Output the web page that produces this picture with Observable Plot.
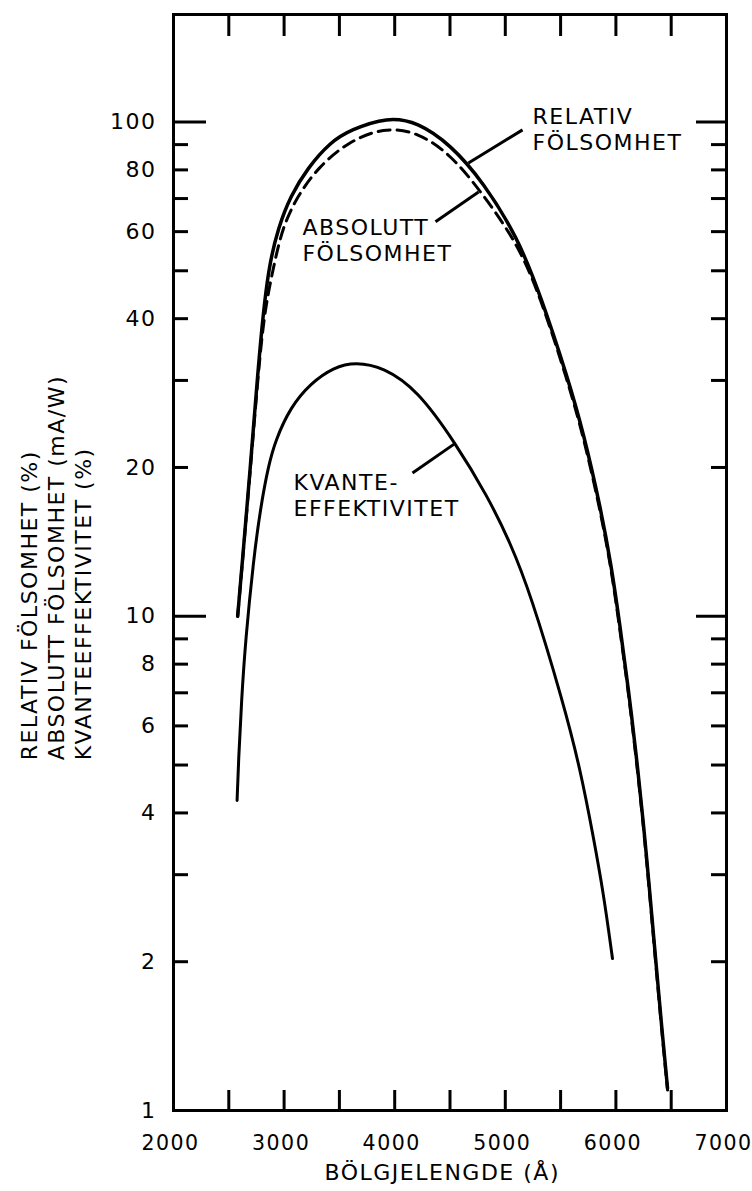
<!DOCTYPE html>
<html>
<head>
<meta charset="utf-8">
<script src="https://cdn.jsdelivr.net/npm/d3@7"></script>
<script src="https://cdn.jsdelivr.net/npm/@observablehq/plot@0.6"></script>
<style>
  html, body { margin: 0; padding: 0; background: #fff; }
</style>
</head>
<body>
<div id="chart"></div>
<script>
// Spectral response of the photocathode, wavelength in ångström
const relWave  = [2580, 2624, 2696, 2750, 2796, 2859, 2949, 3058, 3212, 3420, 3600, 3935, 4206, 4505, 4803, 5110, 5318, 5562, 5707, 5861, 5960, 6033, 6114, 6186, 6250, 6304, 6358, 6412, 6467];
const relValue = [10.0, 13.0, 20.2, 28.7, 38.0, 50.9, 61.3, 70.8, 80.7, 91.1, 96.4, 102.4, 100.0, 90.0, 75.5, 58.5, 44.6, 30.5, 23.5, 16.6, 12.6, 9.7, 7.1, 5.2, 3.8, 2.8, 2.04, 1.49, 1.11];

const absWave  = [2580, 2624, 2696, 2752, 2814, 2904, 2986, 3121, 3302, 3573, 3899, 4206, 4505, 4776, 5110, 5318, 5562, 5707, 5861, 5960, 6033, 6114, 6186, 6250, 6304, 6358, 6412, 6467];
const absValue = [10.0, 12.9, 20.0, 28.3, 40.5, 50.9, 61.3, 70.8, 80.7, 91.1, 97.5, 95.5, 86.0, 72.5, 56.9, 44.2, 30.0, 23.1, 16.3, 12.4, 9.5, 7.0, 5.1, 3.75, 2.76, 2.01, 1.47, 1.1];

const qeWave  = [2575, 2588, 2615, 2651, 2723, 2787, 2859, 2922, 3058, 3239, 3447, 3646, 3899, 4206, 4550, 4839, 5047, 5228, 5526, 5680, 5797, 5888, 5969];
const qeValue = [4.24, 5.11, 6.76, 8.94, 13.0, 16.6, 20.2, 22.7, 26.5, 29.6, 31.9, 32.7, 31.9, 28.7, 22.4, 17.5, 14.06, 11.1, 6.67, 4.88, 3.57, 2.75, 2.03];

// Axis ticks
const xTickLabels = [2000, 3000, 4000, 5000, 6000, 7000];
const xTickMarks  = [2500, 3000, 3500, 4000, 4500, 5000, 5500, 6000, 6500];
const yTickLabels = [1, 2, 4, 6, 8, 10, 20, 40, 60, 80, 100];
const yMinorTicks = [2, 3, 4, 5, 6, 7, 8, 9, 20, 30, 40, 50, 60, 70, 80, 90];
const yMajorTicks = [10, 100];

// Curve names with their leader lines
const labelText  = ["RELATIV\nFÖLSOMHET", "ABSOLUTT\nFÖLSOMHET", "KVANTE-\nEFFEKTIVITET"];
const labelWave  = [5246, 3166, 3085];
const labelValue = [108, 64.5, 19.6];
const leaderWave1  = [4667, 4369, 4161];
const leaderValue1 = [82.6, 62.8, 19.5];
const leaderWave2  = [5156, 4758, 4550];
const leaderValue2 = [96.4, 72.2, 22.4];

const xTitle = "BÖLGJELENGDE (Å)";
const yTitle = "RELATIV FÖLSOMHET (%)\nABSOLUTT FÖLSOMHET (mA/W)\nKVANTEEFFEKTIVITET (%)";

const toRows = (xs, ys) => xs.map((x, i) => ({x, y: ys[i]}));
const rel = toRows(relWave, relValue);
const abs = toRows(absWave, absValue);
const qe = toRows(qeWave, qeValue);
const labels = labelText.map((t, i) => ({t, x: labelWave[i], y: labelValue[i]}));
const leaders = leaderWave1.map((x1, i) => ({x1, y1: leaderValue1[i], x2: leaderWave2[i], y2: leaderValue2[i]}));

const W = 752, H = 1191, ML = 173, MR = 26, MT = 14, MB = 81;
const plotW = W - ML - MR, plotH = H - MT - MB;
const FONT = "'DejaVu Sans', Verdana, sans-serif";
const FS = 22;
const SW = 3;

const chart = Plot.plot({
  width: W,
  height: H,
  marginLeft: ML,
  marginRight: MR,
  marginTop: MT,
  marginBottom: MB,
  style: {fontFamily: FONT, fontSize: FS + "px", letterSpacing: "1.5px", background: "#fff", color: "#000"},
  x: {domain: [2000, 7000], axis: null},
  y: {type: "log", domain: [1, 165], axis: null},
  marks: [
    // inward ticks on all four sides
    Plot.tickY(yMinorTicks, {y: d => d, insetRight: plotW - 15, strokeWidth: SW}),
    Plot.tickY(yMajorTicks, {y: d => d, insetRight: plotW - 33, strokeWidth: SW}),
    Plot.tickY(yMinorTicks, {y: d => d, insetLeft: plotW - 15, strokeWidth: SW}),
    Plot.tickY(yMajorTicks, {y: d => d, insetLeft: plotW - 30, strokeWidth: SW}),
    Plot.tickX(xTickMarks, {x: d => d, insetBottom: plotH - 22, strokeWidth: SW}),
    Plot.tickX(xTickMarks, {x: d => d, insetTop: plotH - 20, strokeWidth: SW}),
    Plot.frame({strokeWidth: SW}),
    // tick labels
    Plot.text(yTickLabels, {y: d => d, text: d => String(d), frameAnchor: "left", dx: -17, textAnchor: "end", lineAnchor: "middle", fontSize: FS, fill: "#000", ariaLabel: "y tick labels"}),
    Plot.text(xTickLabels, {x: d => d, text: d => String(d), frameAnchor: "bottom", dx: -3, dy: 33, lineAnchor: "middle", fontSize: 20.5, fill: "#000", ariaLabel: "x tick labels"}),
    // curves
    Plot.line(rel, {x: "x", y: "y", curve: "basis", strokeWidth: 3.5}),
    Plot.line(abs, {x: "x", y: "y", curve: "basis", strokeWidth: 3, strokeDasharray: "12,7"}),
    Plot.line(qe, {x: "x", y: "y", curve: "basis", strokeWidth: 3}),
    // curve names
    Plot.link(leaders, {x1: "x1", y1: "y1", x2: "x2", y2: "y2", strokeWidth: 3}),
    Plot.text(labels, {x: "x", y: "y", text: "t", textAnchor: "start", lineAnchor: "top", lineHeight: 1.18, fontSize: FS, fill: "#000"}),
    // axis titles
    Plot.text([xTitle], {text: d => d, x: 4430, frameAnchor: "bottom", dy: 62, lineAnchor: "middle", fontSize: FS, fill: "#000"}),
    Plot.text([yTitle], {text: d => d, y: 5.11, frameAnchor: "left", dx: -118, rotate: -90, textAnchor: "start", lineAnchor: "middle", lineHeight: 1.23, fontSize: FS, fill: "#000"})
  ]
});

// numbers are set without extra tracking
d3.select(chart).selectAll("g[aria-label='x tick labels'] text, g[aria-label='y tick labels'] text").style("letter-spacing", "0px");

document.getElementById("chart").appendChild(chart);
</script>
</body>
</html>
